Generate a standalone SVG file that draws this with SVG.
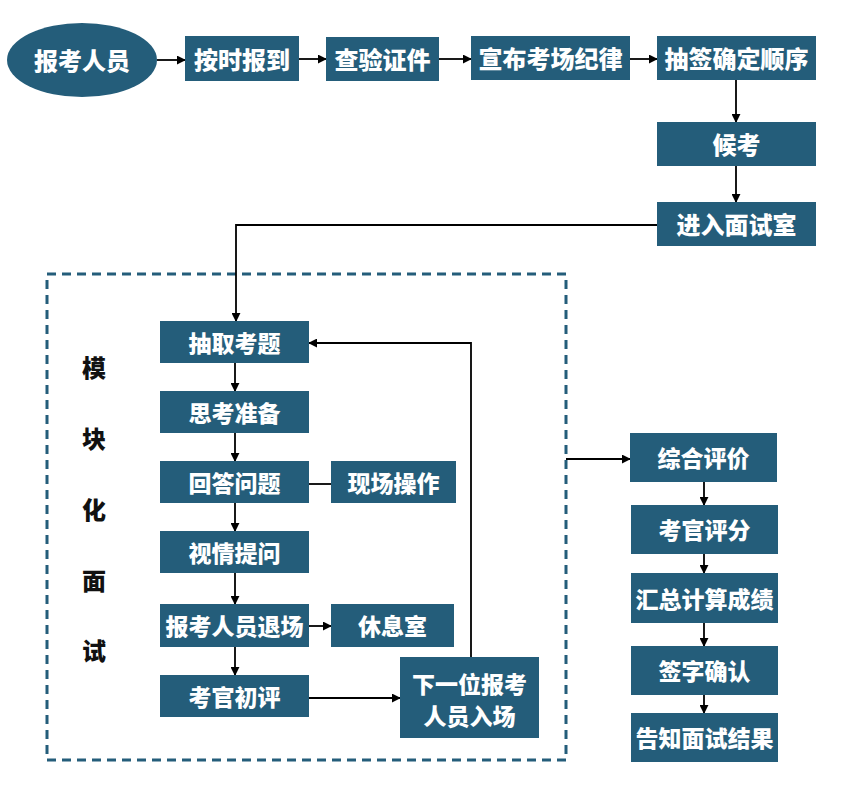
<svg xmlns="http://www.w3.org/2000/svg" width="844" height="804" viewBox="0 0 844 804">
<defs>
<style>
.box{fill:#245d7a;}
.t{fill:#ffffff;font-family:"Noto Sans CJK SC","Noto Sans",sans-serif;font-weight:900;font-size:23px;text-anchor:middle;dominant-baseline:central;}
.big{font-size:24px;}
.v{fill:#111111;font-family:"Noto Sans CJK SC","Noto Sans",sans-serif;font-weight:900;font-size:24px;text-anchor:middle;dominant-baseline:central;}
.c{fill:none;stroke:#000000;stroke-width:1.8;}
.a{marker-end:url(#arr);}
</style>
<marker id="arr" viewBox="0 0 10 10" refX="9" refY="5" markerWidth="5" markerHeight="5" orient="auto" markerUnits="strokeWidth">
<path d="M0,0 L10,5 L0,10 z" fill="#000000"/>
</marker>
</defs>
<rect width="844" height="804" fill="#ffffff"/>

<g id="frame">
<rect x="47" y="274" width="519" height="486" fill="none" stroke="#245d7a" stroke-width="3" stroke-dasharray="9 6"/>
<text class="v" x="94" y="366">模</text>
<text class="v" x="94" y="437">块</text>
<text class="v" x="94" y="508">化</text>
<text class="v" x="94" y="579">面</text>
<text class="v" x="94" y="649">试</text>
</g>

<g id="connectors">
<path class="c a" d="M157,60 H185"/>
<path class="c a" d="M299,59 H326"/>
<path class="c a" d="M439,59 H471"/>
<path class="c a" d="M630,59 H657"/>
<path class="c a" d="M736,80 V122"/>
<path class="c a" d="M736,166 V202"/>
<path class="c a" d="M657,225 H236 V321"/>
<path class="c a" d="M235,363 V391"/>
<path class="c a" d="M235,433 V461"/>
<path class="c" d="M309,484 H331"/>
<path class="c a" d="M235,503 V531"/>
<path class="c a" d="M235,573 V604"/>
<path class="c a" d="M309,626 H331"/>
<path class="c a" d="M235,647 V675"/>
<path class="c a" d="M309,698 H400"/>
<path class="c a" d="M471,657 V343 H309"/>
<path class="c a" d="M566,459 H630"/>
<path class="c a" d="M704,482 V505"/>
<path class="c a" d="M704,554 V573"/>
<path class="c a" d="M704,623 V646"/>
<path class="c a" d="M704,695 V713"/>
</g>

<g id="n-start"><ellipse class="box" cx="82" cy="60" rx="75" ry="37"/><text class="t big" x="82" y="59">报考人员</text></g>
<g id="n-checkin"><rect class="box" x="185" y="36" width="114" height="45"/><text class="t big" x="242" y="58">按时报到</text></g>
<g id="n-verify"><rect class="box" x="326" y="37" width="113" height="44"/><text class="t big" x="382.5" y="58.5">查验证件</text></g>
<g id="n-rules"><rect class="box" x="471" y="36" width="159" height="44"/><text class="t big" x="550.5" y="57.5">宣布考场纪律</text></g>
<g id="n-draw"><rect class="box" x="657" y="36" width="159" height="44"/><text class="t big" x="736.5" y="57.5">抽签确定顺序</text></g>
<g id="n-wait"><rect class="box" x="657" y="122" width="159" height="44"/><text class="t big" x="736.5" y="143.5">候考</text></g>
<g id="n-enter"><rect class="box" x="657" y="202" width="159" height="44"/><text class="t big" x="736.5" y="223.5">进入面试室</text></g>

<g id="n-topic"><rect class="box" x="160" y="321" width="149" height="42"/><text class="t" x="234.5" y="341.5">抽取考题</text></g>
<g id="n-think"><rect class="box" x="160" y="391" width="149" height="42"/><text class="t" x="234.5" y="411.5">思考准备</text></g>
<g id="n-answer"><rect class="box" x="160" y="461" width="149" height="42"/><text class="t" x="234.5" y="481.5">回答问题</text></g>
<g id="n-operate"><rect class="box" x="331" y="461" width="125" height="42"/><text class="t" x="393.5" y="482">现场操作</text></g>
<g id="n-ask"><rect class="box" x="160" y="531" width="149" height="42"/><text class="t" x="234.5" y="551.5">视情提问</text></g>
<g id="n-leave"><rect class="box" x="160" y="604" width="149" height="43"/><text class="t" x="234.5" y="625">报考人员退场</text></g>
<g id="n-rest"><rect class="box" x="331" y="604" width="123" height="43"/><text class="t" x="392.5" y="625">休息室</text></g>
<g id="n-prelim"><rect class="box" x="160" y="675" width="149" height="42"/><text class="t" x="234.5" y="695.5">考官初评</text></g>
<g id="n-next"><rect class="box" x="400" y="657" width="139" height="81"/><text class="t" x="469.5" y="683">下一位报考</text><text class="t" x="469.5" y="715">人员入场</text></g>

<g id="n-eval"><rect class="box" x="630" y="433" width="147" height="49"/><text class="t" x="703.5" y="457">综合评价</text></g>
<g id="n-score"><rect class="box" x="631" y="505" width="147" height="49"/><text class="t" x="704.5" y="529">考官评分</text></g>
<g id="n-sum"><rect class="box" x="631" y="573" width="147" height="50"/><text class="t" x="704.5" y="597.5">汇总计算成绩</text></g>
<g id="n-sign"><rect class="box" x="631" y="646" width="147" height="49"/><text class="t" x="704.5" y="670">签字确认</text></g>
<g id="n-notify"><rect class="box" x="631" y="713" width="147" height="49"/><text class="t" x="704.5" y="737">告知面试结果</text></g>
</svg>
